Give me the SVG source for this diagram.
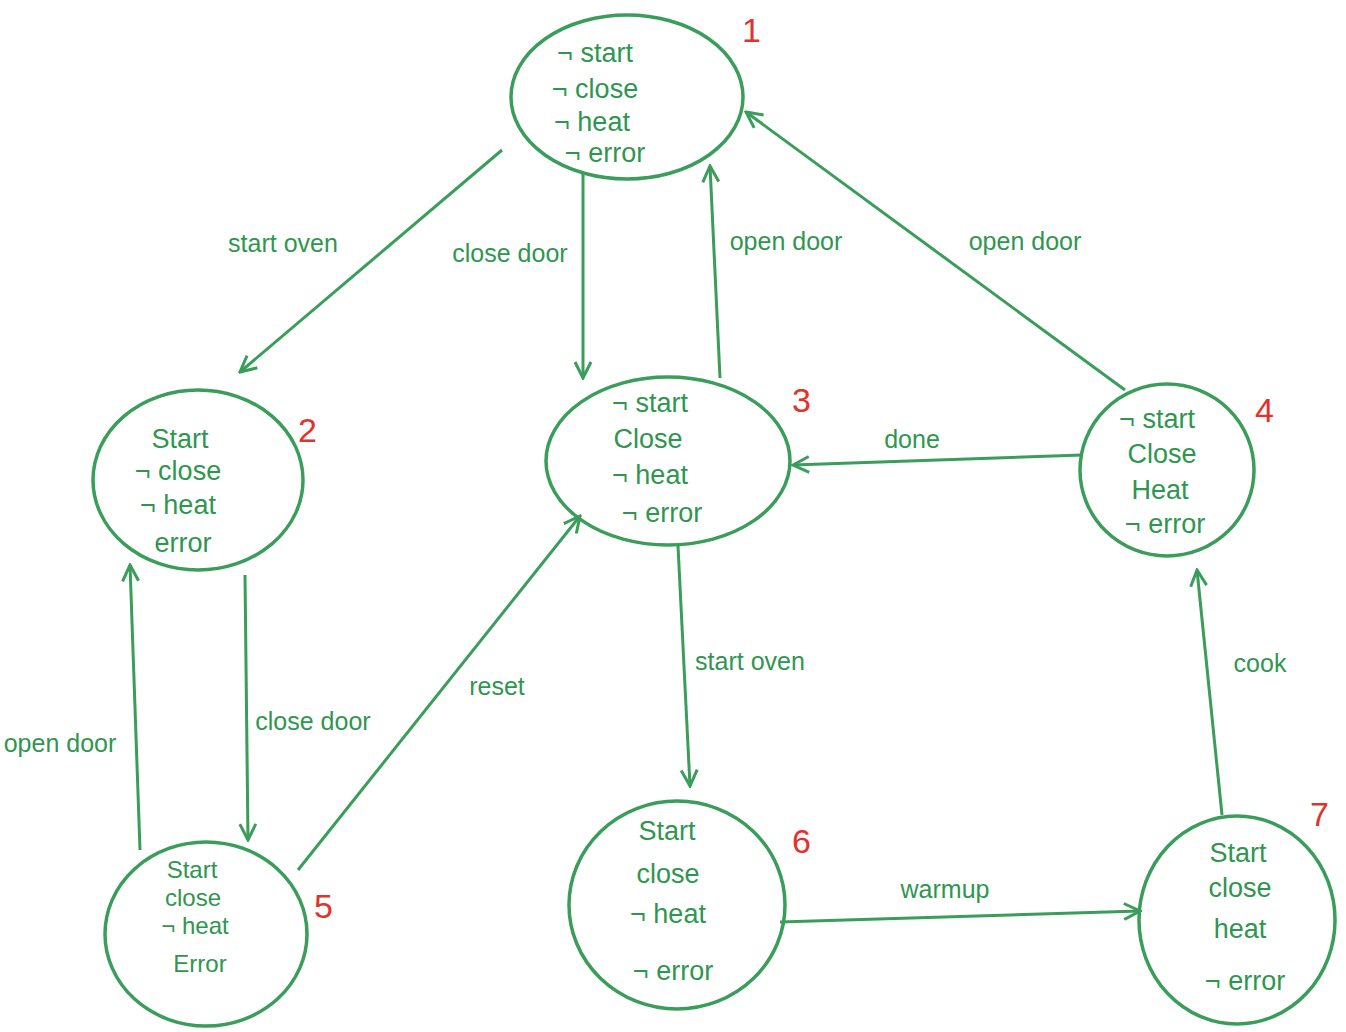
<svg xmlns="http://www.w3.org/2000/svg" width="1346" height="1032" viewBox="0 0 1346 1032">
<style>
.bg{fill:#ffffff}
.node ellipse{fill:none;stroke:#3a9d5a;stroke-width:3.5}
.node text{fill:#2f9650;font-family:"Liberation Sans",Arial,sans-serif;font-size:27px;text-anchor:middle}
.node text.sm{font-size:24px}
.node text.num{fill:#e3322b;font-size:34px;text-anchor:start}
.edges path{fill:none;stroke:#3a9d5a;stroke-width:3}
.lbl{fill:#2f9650;font-family:"Liberation Sans",Arial,sans-serif;font-size:25px;text-anchor:middle}
</style>
<defs>
<marker id="arr" viewBox="0 0 20 20" refX="18" refY="10" markerWidth="20" markerHeight="20" markerUnits="userSpaceOnUse" orient="auto">
<path d="M2,2 L18,10 L2,18" fill="none" stroke="#3a9d5a" stroke-width="3"/>
</marker>
</defs>
<rect class="bg" width="1346" height="1032"/>
<g id="edges" class="edges">
<path d="M502,150 L240,372" marker-end="url(#arr)"/>
<path d="M583,172 L583,378" marker-end="url(#arr)"/>
<path d="M720,378 L710,166" marker-end="url(#arr)"/>
<path d="M1125,390 L746,112" marker-end="url(#arr)"/>
<path d="M1082,455 L793,465" marker-end="url(#arr)"/>
<path d="M678,546 L690,786" marker-end="url(#arr)"/>
<path d="M780,922 L1140,911" marker-end="url(#arr)"/>
<path d="M1222,815 L1197,570" marker-end="url(#arr)"/>
<path d="M245,575 L248,840" marker-end="url(#arr)"/>
<path d="M140,850 L130,565" marker-end="url(#arr)"/>
<path d="M298,870 L580,516" marker-end="url(#arr)"/>
</g>
<g id="edge-labels">
<text class="lbl" x="283" y="252">start oven</text>
<text class="lbl" x="510" y="262">close door</text>
<text class="lbl" x="786" y="250">open door</text>
<text class="lbl" x="1025" y="250">open door</text>
<text class="lbl" x="912" y="448">done</text>
<text class="lbl" x="750" y="670">start oven</text>
<text class="lbl" x="945" y="898">warmup</text>
<text class="lbl" x="1260" y="672">cook</text>
<text class="lbl" x="313" y="730">close door</text>
<text class="lbl" x="60" y="752">open door</text>
<text class="lbl" x="497" y="695">reset</text>
</g>
<g id="node1" class="node">
<ellipse cx="627" cy="97" rx="116" ry="82"/>
<text x="595" y="62">¬ start</text>
<text x="595" y="98">¬ close</text>
<text x="592" y="131">¬ heat</text>
<text x="605" y="162">¬ error</text>
<text class="num" x="742" y="42">1</text>
</g>
<g id="node2" class="node">
<ellipse cx="198" cy="480" rx="105" ry="90"/>
<text x="180" y="448">Start</text>
<text x="178" y="480">¬ close</text>
<text x="178" y="514">¬ heat</text>
<text x="183" y="552">error</text>
<text class="num" x="298" y="442">2</text>
</g>
<g id="node3" class="node">
<ellipse cx="668" cy="461" rx="122" ry="84"/>
<text x="650" y="412">¬ start</text>
<text x="648" y="448">Close</text>
<text x="650" y="484">¬ heat</text>
<text x="662" y="522">¬ error</text>
<text class="num" x="792" y="412">3</text>
</g>
<g id="node4" class="node">
<ellipse cx="1167" cy="470" rx="87" ry="86"/>
<text x="1157" y="428">¬ start</text>
<text x="1162" y="463">Close</text>
<text x="1160" y="499">Heat</text>
<text x="1165" y="533">¬ error</text>
<text class="num" x="1255" y="422">4</text>
</g>
<g id="node5" class="node">
<ellipse cx="206" cy="934" rx="101" ry="92"/>
<text class="sm" x="192" y="878">Start</text>
<text class="sm" x="193" y="906">close</text>
<text class="sm" x="195" y="934">¬ heat</text>
<text class="sm" x="200" y="972">Error</text>
<text class="num" x="314" y="918">5</text>
</g>
<g id="node6" class="node">
<ellipse cx="677" cy="905" rx="108" ry="104"/>
<text x="667" y="840">Start</text>
<text x="668" y="883">close</text>
<text x="668" y="923">¬ heat</text>
<text x="673" y="980">¬ error</text>
<text class="num" x="792" y="853">6</text>
</g>
<g id="node7" class="node">
<ellipse cx="1237" cy="920" rx="98" ry="104"/>
<text x="1238" y="862">Start</text>
<text x="1240" y="897">close</text>
<text x="1240" y="938">heat</text>
<text x="1245" y="990">¬ error</text>
<text class="num" x="1310" y="826">7</text>
</g>
</svg>
